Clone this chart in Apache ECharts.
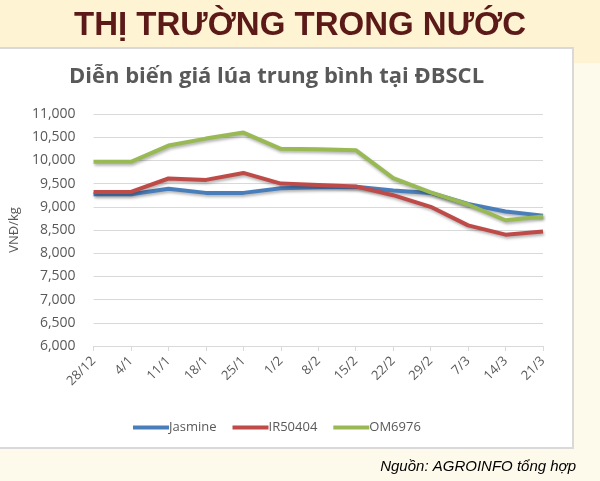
<!DOCTYPE html>
<html>
<head>
<meta charset="utf-8">
<script src="https://cdn.jsdelivr.net/npm/echarts@6/dist/echarts.min.js"></script>
<style>
html,body{margin:0;padding:0;background:#fefaeb;}
#c{width:600px;height:481px;}
</style>
</head>
<body>
<div id="c"></div>
<script>
var categories = ['28/12','4/1','11/1','18/1','25/1','1/2','8/2','15/2','22/2','29/2','7/3','14/3','21/3'];
var jasmine = [9270, 9270, 9390, 9300, 9300, 9400, 9420, 9430, 9350, 9300, 9060, 8900, 8810];
var ir50404 = [9320, 9320, 9610, 9580, 9730, 9500, 9470, 9440, 9250, 9000, 8600, 8400, 8470];
var om6976 = [9970, 9970, 10320, 10470, 10600, 10250, 10240, 10220, 9620, 9310, 9050, 8710, 8790];
var yTicks = {min: 6000, max: 11000, interval: 500};

var chart = echarts.init(document.getElementById('c'));
function mk(name, data, color){
  return {
    name: name, type: 'line', data: data, symbol: 'none',
    lineStyle: {color: color, width: 4, shadowColor: 'rgba(0,0,0,0.3)', shadowBlur: 3, shadowOffsetX: 1, shadowOffsetY: 2},
    itemStyle: {color: color}
  };
}
chart.setOption({
  animation: false,
  graphic: [
    {type: 'rect', shape: {x: 0, y: 0, width: 600, height: 63}, style: {fill: '#fef3d2'}, z: -10},
    {type: 'rect', shape: {x: -2, y: 48, width: 575, height: 400}, style: {fill: '#ffffff', stroke: '#d9d9d9', lineWidth: 2}, z: -5},
    {type: 'text', left: 'center', top: 9, style: {text: 'THỊ TRƯỜNG TRONG NƯỚC', fill: '#5b1a18', font: 'bold 33px "Liberation Sans", Arial, sans-serif', shadowColor: 'rgba(0,0,0,0.35)', shadowBlur: 2, shadowOffsetX: 1, shadowOffsetY: 1}},
    {type: 'text', left: 69, top: 66, style: {text: 'Diễn biến giá lúa trung bình tại ĐBSCL', fill: '#595959', font: 'bold 22px "Open Sans", "Noto Sans", sans-serif'}},
    {type: 'text', right: 24, top: 459, style: {text: 'Nguồn: AGROINFO tổng hợp', fill: '#000000', font: 'italic 15px "Liberation Sans", Arial, sans-serif'}}
  ],
  grid: {left: 86, right: 57, top: 114, bottom: 135},
  legend: {
    top: 416, left: 128,
    itemWidth: 36, itemHeight: 4, itemGap: 16,
    icon: 'rect',
    textStyle: {color: '#595959', fontSize: 13, fontFamily: '"Open Sans", sans-serif', padding: [0,0,0,-5]},
    data: ['Jasmine','IR50404','OM6976']
  },
  xAxis: {
    type: 'category', data: categories, boundaryGap: false,
    axisLine: {lineStyle: {color: '#d9d9d9'}},
    axisTick: {show: true, lineStyle: {color: '#d9d9d9'}, length: 5},
    axisLabel: {rotate: 45, color: '#595959', fontSize: 13, fontFamily: '"Open Sans", sans-serif', margin: 13}
  },
  yAxis: {
    type: 'value', min: yTicks.min, max: yTicks.max, interval: yTicks.interval,
    name: 'VNĐ/kg', nameLocation: 'middle', nameGap: 72, nameRotate: 90,
    nameTextStyle: {color: '#595959', fontSize: 13, fontFamily: '"Open Sans", sans-serif'},
    axisLine: {show: false}, axisTick: {show: false},
    splitLine: {lineStyle: {color: '#d9d9d9', width: 1}},
    axisLabel: {color: '#595959', fontSize: 14, fontFamily: '"Open Sans", sans-serif', margin: 18,
      formatter: function(v){ return v.toLocaleString('en-US'); }}
  },
  series: [mk('Jasmine', jasmine, '#4a7ebb'), mk('IR50404', ir50404, '#be4b48'), mk('OM6976', om6976, '#98b954')]
});
</script>
</body>
</html>
